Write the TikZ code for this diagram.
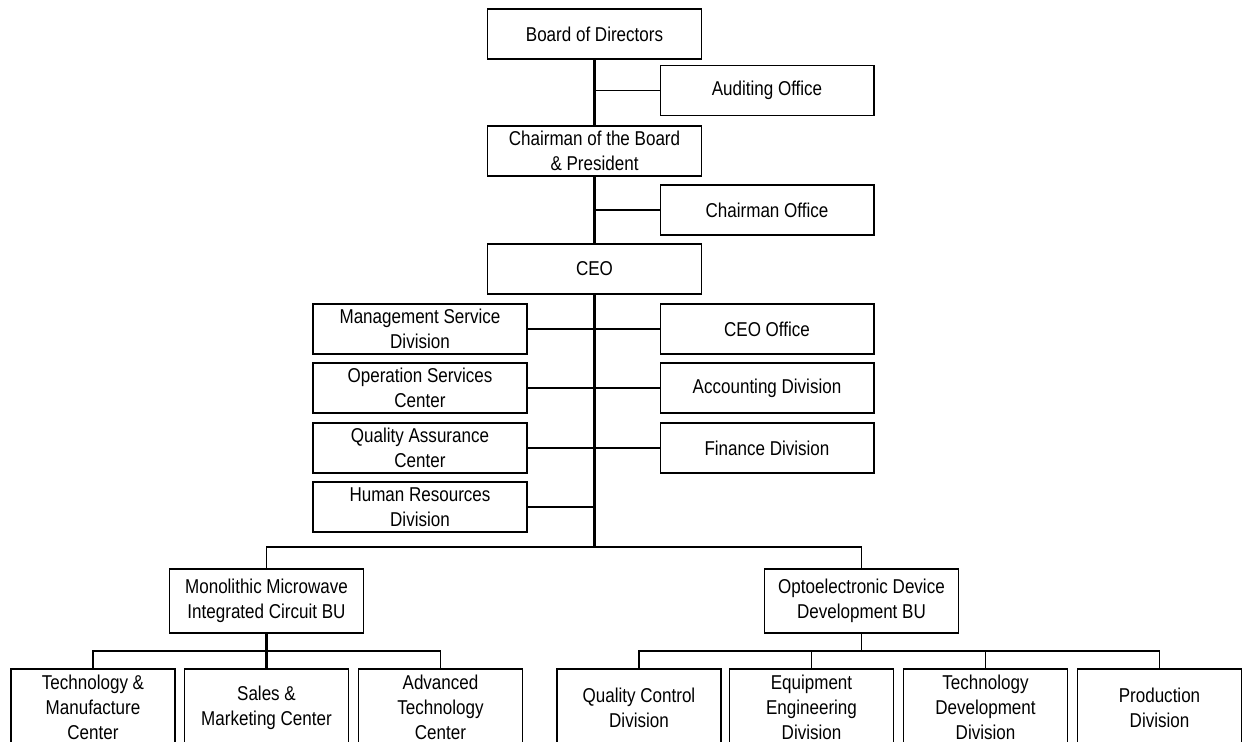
\documentclass[tikz,border=0pt]{standalone}
\usepackage{fontspec}
\setmainfont{Liberation Sans}[FakeStretch=0.85]
\begin{document}
\begin{tikzpicture}[x=0.02cm, y=-0.02cm,
    box/.style={draw, line width=0.6pt, align=center, inner sep=0pt,
        minimum width=4.28cm, minimum height=1cm,
        font=\fontsize{11.4pt}{14.2pt}\selectfont},
    bubox/.style={box, minimum width=3.88cm, minimum height=1.28cm},
    unitbox/.style={box, minimum width=3.28cm, minimum height=1.54cm},
    link/.style={line width=0.6pt},
    trunk/.style={line width=1.3pt}]
    \clip (0,0) rectangle (1247,742);

    \node[box] (board) at (594.5,34) {Board of Directors};
    \node[box] (audit) at (767,90.5) {Auditing Office};
    \node[box] (chair) at (594.5,151) {Chairman of the Board\\\& President};
    \node[box] (chairoff) at (767,210) {Chairman Office};
    \node[box] (ceo) at (594.5,269) {CEO};

    \node[box] (mgmt) at (420,329) {Management Service\\Division};
    \node[box] (ops) at (420,388) {Operation Services\\Center};
    \node[box] (qa) at (420,448) {Quality Assurance\\Center};
    \node[box] (hr) at (420,507) {Human Resources\\Division};
    \node[box] (ceooff) at (767,329) {CEO Office};
    \node[box] (acct) at (767,388) {Accounting Division};
    \node[box] (fin) at (767,448) {Finance Division};

    \node[bubox] (mmic) at (266.5,601) {Monolithic Microwave\\Integrated Circuit BU};
    \node[bubox] (opto) at (861.5,601) {Optoelectronic Device\\Development BU};

    \node[unitbox] (tm) at (93,707.5) {Technology \&\\Manufacture\\Center};
    \node[unitbox] (sales) at (266.5,707.5) {Sales \&\\Marketing Center};
    \node[unitbox] (adv) at (440.5,707.5) {Advanced\\Technology\\Center};
    \node[unitbox] (qc) at (639,707.5) {Quality Control\\Division};
    \node[unitbox] (ee) at (811.5,707.5) {Equipment\\Engineering\\Division};
    \node[unitbox] (td) at (985.5,707.5) {Technology\\Development\\Division};
    \node[unitbox] (prod) at (1159.5,707.5) {Production\\Division};

    \coordinate (bus) at (594.5,547);
    \coordinate (mbus) at (266.5,651);
    \coordinate (obus) at (861.5,651);

    \draw[trunk] (board.south) -- (chair.north)
    (chair.south) -- (ceo.north)
    (ceo.south) -- (bus);
    \draw[link] (board.south |- audit.west) -- (audit.west)
    (chair.south |- chairoff.west) -- (chairoff.west)
    (mgmt.east) -- (ceooff.west)
    (ops.east) -- (acct.west)
    (qa.east) -- (fin.west)
    (hr.east) -- (ceo.south |- hr.east);

    \draw[link] (mmic.north) |- (bus) -| (opto.north);

    \draw[trunk] (mmic.south) -- (sales.north);
    \draw[link] (tm.north) |- (mbus) -| (adv.north);

    \draw[link] (opto.south) -- (obus);
    \draw[link] (qc.north) |- (obus) -| (prod.north)
    (ee.north) -- (ee.north |- obus)
    (td.north) -- (td.north |- obus);
\end{tikzpicture}
\end{document}
